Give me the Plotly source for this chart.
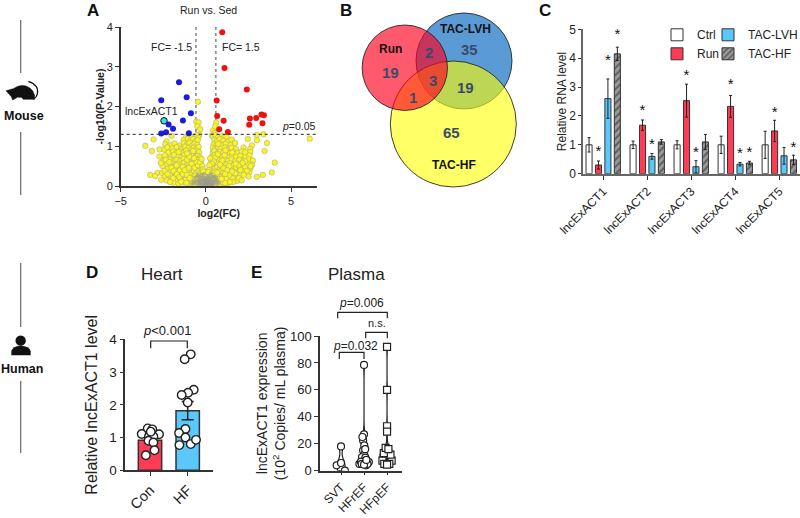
import plotly.graph_objects as go

FONT = "Liberation Sans, Arial, sans-serif"
DARK = "#333333"
W, H = 800, 518

# ---------- Panel A: volcano ----------
red_x = [0.96, 1.09, 2.40, 0.63, 0.66, 1.04, 0.78, 1.29, 2.58, 2.95, 3.26, 3.40, 2.54, 3.32]
red_y = [3.87, 2.97, 2.43, 2.15, 1.76, 1.64, 1.43, 1.36, 1.70, 1.71, 1.80, 1.78, 1.54, 1.58]
blue_x = [-1.58, -1.13, -2.62, -0.88, -1.35, -2.19, -1.93, -2.62, -2.34, -1.00]
blue_y = [2.61, 2.23, 2.16, 1.83, 1.65, 1.55, 1.44, 1.32, 1.35, 1.33]
target_x = [-2.46]
target_y = [1.64]
yellow_points = [
 (-0.47,2.12),(-0.57,1.62),(-0.43,1.60),(-0.50,1.50),(-0.38,1.29),(-0.33,1.43),(0.42,1.40),(0.60,1.60),(0.55,1.50),(0.52,1.33),(6.09,1.19),(0.35,1.27),
 (-2.02,1.26),(-1.16,1.24),(-1.02,1.27),(-0.86,1.22),(-0.61,1.25),(-0.52,1.28),(-0.44,1.21),
 (-3.07,1.17),(-2.31,1.12),(-1.31,1.16),(-1.06,1.19),(-0.91,1.13),(-0.76,1.18),(-0.63,1.11),(-0.49,1.15),
 (-2.39,1.05),(-2.01,1.03),(-1.84,1.07),(-1.56,1.02),(-1.29,1.08),(-1.11,1.04),(-0.96,1.09),(-0.81,1.01),(-0.66,1.06),(-0.51,1.03),
 (-3.56,1.01),(-2.72,0.92),(-2.44,0.92),(-2.26,0.97),(-1.96,0.94),(-1.71,0.98),(-1.46,0.93),(-1.21,0.99),(-1.01,0.96),(-0.86,0.92),(-0.71,0.97),(-0.56,0.94),(-0.43,0.98),
 (-3.17,0.88),(-2.21,0.84),(-1.91,0.87),(-1.76,0.82),(-1.51,0.88),(-1.34,0.84),(-1.16,0.89),(-0.96,0.83),(-0.81,0.86),(-0.66,0.82),(-0.52,0.88),(-0.40,0.85),
 (-2.72,0.74),(-2.41,0.77),(-2.06,0.73),(-1.86,0.78),(-1.61,0.74),(-1.41,0.72),(-1.26,0.78),(-1.06,0.75),(-0.91,0.71),(-0.73,0.77),(-0.61,0.73),(-0.46,0.76),(-0.35,0.72),
 (-2.50,0.64),(-2.11,0.67),(-1.92,0.62),(-1.72,0.66),(-1.51,0.63),(-1.31,0.68),(-1.16,0.62),(-1.01,0.66),(-0.86,0.63),(-0.71,0.68),(-0.56,0.62),(-0.41,0.66),(-0.31,0.63),
 (-2.31,0.54),(-2.01,0.57),(-1.81,0.52),(-1.62,0.56),(-1.46,0.53),(-1.29,0.58),(-1.11,0.53),(-0.96,0.57),(-0.81,0.52),(-0.66,0.56),(-0.51,0.53),(-0.39,0.58),(-0.28,0.54),
 (-2.21,0.44),(-1.96,0.47),(-1.76,0.43),(-1.56,0.47),(-1.41,0.42),(-1.21,0.46),(-1.06,0.43),(-0.91,0.48),(-0.76,0.44),(-0.61,0.47),(-0.48,0.42),(-0.36,0.46),(-0.25,0.43),
 (-2.84,0.33),(-2.58,0.33),(-2.06,0.36),(-1.86,0.32),(-1.66,0.37),(-1.46,0.33),(-1.31,0.38),(-1.16,0.34),(-1.01,0.37),(-0.86,0.32),(-0.71,0.36),(-0.56,0.33),(-0.42,0.37),(-0.31,0.34),(-0.21,0.36),
 (-3.27,0.28),(-2.98,0.25),(-2.41,0.24),(-2.11,0.27),(-1.81,0.23),(-1.61,0.26),(-1.41,0.22),(-1.21,0.27),(-1.06,0.24),(-0.91,0.28),(-0.76,0.23),(-0.61,0.26),(-0.46,0.22),(-0.36,0.27),(-0.26,0.24),(-0.16,0.26),
 (-2.31,0.14),(-2.01,0.16),(-1.76,0.13),(-1.51,0.17),(-1.26,0.13),(-1.11,0.16),(-0.91,0.12),(-0.76,0.17),(-0.61,0.14),(-0.51,0.18),(-0.38,0.13),(-0.28,0.16),(-0.20,0.12),(-0.12,0.17),
 (-1.91,0.08),(-1.61,0.06),(-1.31,0.09),(-1.01,0.06),(-0.81,0.08),(-0.61,0.05),(-0.46,0.08),(-0.31,0.06),(-0.21,0.09),(-0.10,0.05),(-0.05,0.08),
 (0.41,1.25),(0.56,1.28),(0.71,1.22),(0.96,1.26),(1.06,1.21),(1.21,1.24),(2.99,1.28),(3.38,1.30),
 (0.50,1.16),(0.66,1.12),(0.81,1.18),(1.01,1.14),(1.26,1.11),(1.51,1.17),(2.46,1.18),(2.99,1.15),
 (0.45,1.05),(0.61,1.03),(0.81,1.07),(0.96,1.02),(1.16,1.06),(1.46,1.03),(1.71,1.08),(2.70,1.02),(3.58,1.08),
 (0.40,0.96),(0.55,0.93),(0.71,0.98),(0.86,0.94),(1.11,0.97),(1.31,0.92),(1.51,0.96),(1.76,0.93),(2.21,0.97),(2.60,0.93),
 (0.41,0.84),(0.50,0.88),(0.66,0.82),(0.81,0.86),(1.01,0.83),(1.21,0.87),(1.41,0.82),(1.61,0.86),(1.86,0.83),(2.11,0.87),(2.60,0.86),(3.44,0.88),
 (0.35,0.74),(0.50,0.77),(0.61,0.72),(0.76,0.77),(0.96,0.73),(1.16,0.76),(1.36,0.72),(1.56,0.77),(1.76,0.74),(2.01,0.76),(2.31,0.73),(2.56,0.77),
 (0.30,0.64),(0.45,0.67),(0.60,0.62),(0.76,0.66),(0.91,0.63),(1.11,0.68),(1.31,0.63),(1.51,0.67),(1.71,0.62),(1.96,0.66),(2.21,0.63),(2.51,0.67),(2.76,0.64),
 (0.30,0.54),(0.42,0.57),(0.55,0.53),(0.71,0.56),(0.86,0.52),(1.01,0.57),(1.21,0.54),(1.41,0.57),(1.61,0.53),(1.86,0.56),(2.11,0.52),(2.41,0.57),(2.71,0.53),(4.04,0.59),
 (0.25,0.44),(0.38,0.47),(0.50,0.43),(0.66,0.47),(0.81,0.42),(0.96,0.46),(1.11,0.43),(1.31,0.47),(1.51,0.42),(1.76,0.46),(2.01,0.43),(2.31,0.47),(2.61,0.44),
 (0.20,0.34),(0.30,0.37),(0.42,0.33),(0.55,0.36),(0.71,0.32),(0.86,0.37),(1.01,0.33),(1.16,0.36),(1.36,0.33),(1.61,0.37),(1.91,0.33),(2.21,0.36),(2.54,0.34),(3.87,0.34),
 (0.15,0.24),(0.25,0.27),(0.35,0.23),(0.50,0.26),(0.62,0.22),(0.75,0.27),(0.91,0.23),(1.06,0.26),(1.21,0.22),(1.46,0.26),(1.71,0.23),(2.01,0.27),(2.50,0.24),(2.99,0.23),(3.34,0.28),
 (0.10,0.14),(0.20,0.17),(0.30,0.13),(0.42,0.16),(0.55,0.12),(0.70,0.17),(0.85,0.13),(1.01,0.16),(1.21,0.12),(1.46,0.16),(1.81,0.13),
 (0.05,0.07),(0.15,0.09),(0.25,0.05),(0.35,0.08),(0.50,0.06),(0.65,0.09),(0.80,0.05),(1.01,0.08),(1.26,0.06),
 (-2.55,0.50),(-2.42,0.38),(-2.36,0.66),(-2.15,0.60),(-2.25,0.30),(-2.02,0.46),(-1.90,0.38),(-1.92,0.20),(-1.70,0.30),(-1.72,0.52),(-1.52,0.40),(-1.55,0.22),(-1.36,0.48),(-1.35,0.30),(-1.24,0.40),(-1.18,0.16),(-1.12,0.28),(-1.10,0.66),(-1.00,0.46),(-0.97,0.74),(-0.83,0.56),
 (-0.80,0.16),(-0.66,0.46),(-0.55,0.60),(-0.46,0.52),(-0.35,0.60),(-2.62,0.16),(-2.10,0.10),(-1.45,0.11),(-1.15,0.08),(-0.95,0.20),(-0.70,0.70),(-1.60,0.85),(-1.10,0.82),(-0.75,0.88),(-2.65,0.58),
 (2.62,0.50),(2.40,0.38),(2.30,0.62),(2.15,0.58),(2.22,0.28),(2.02,0.40),(1.90,0.52),(1.92,0.20),(1.72,0.32),(1.75,0.56),(1.52,0.36),(1.56,0.20),(1.36,0.50),(1.35,0.27),(1.24,0.40),(1.18,0.18),(1.12,0.30),(1.10,0.78),(1.00,0.46),(0.96,0.64),(0.83,0.54),
 (0.80,0.18),(0.66,0.34),(0.55,0.72),(0.46,0.62),(0.35,0.56),(2.10,0.14),(1.60,0.10),(1.40,0.10),(1.12,0.08),(0.92,0.18),(0.70,0.80),(1.55,0.84),(1.15,0.90),(0.72,1.06),(2.30,0.85),
 (-0.20,0.50),(0.20,0.52),(-0.18,0.42),(0.17,0.40),(-0.25,0.68),(0.25,0.70),(-0.14,0.36),(0.13,0.35),
]
yellow_x = [p[0] for p in yellow_points]
yellow_y = [p[1] for p in yellow_points]
gray_points = [
 (-0.62,0.06),(-0.50,0.12),(-0.42,0.05),(-0.36,0.20),(-0.33,0.10),(-0.27,0.27),(-0.26,0.02),(-0.24,0.15),(-0.19,0.21),(-0.17,0.07),(-0.13,0.30),(-0.12,0.14),(-0.09,0.04),(-0.07,0.20),(-0.05,0.10),(-0.02,0.02),(0.00,0.14),
 (0.02,0.07),(0.05,0.19),(0.07,0.03),(0.09,0.11),(0.12,0.25),(0.14,0.06),(0.16,0.16),(0.20,0.02),(0.22,0.21),(0.24,0.10),(0.28,0.30),(0.30,0.05),(0.33,0.17),(0.37,0.11),(0.41,0.23),(0.44,0.05),(0.50,0.14),(0.58,0.08),(0.66,0.13),
 (-0.72,0.14),(-0.58,0.22),(-0.47,0.27),(-0.40,0.14),(-0.30,0.06),(0.36,0.03),(0.48,0.24),(0.60,0.20),(0.74,0.06),(-0.80,0.07),
]
gray_x = [p[0] for p in gray_points]
gray_y = [p[1] for p in gray_points]

# ---------- Panel C: grouped bars ----------
genes = ["lncExACT1", "lncExACT2", "lncExACT3", "lncExACT4", "lncExACT5"]
ctrl = [1.0, 1.0, 1.0, 1.0, 1.0]
ctrl_err = [0.25, 0.13, 0.14, 0.30, 0.47]
run = [0.30, 1.68, 2.53, 2.33, 1.48]
run_err = [0.14, 0.18, 0.57, 0.38, 0.37]
lvh = [2.60, 0.60, 0.24, 0.33, 0.62]
lvh_err = [0.68, 0.10, 0.21, 0.06, 0.29]
hf = [4.15, 1.10, 1.10, 0.37, 0.48]
hf_err = [0.23, 0.08, 0.26, 0.06, 0.16]
star_group = [0, 0, 0, 1, 1, 2, 2, 3, 3, 3, 4, 4]
star_slot = [1, 2, 3, 1, 2, 1, 2, 1, 2, 3, 1, 3]
star_y = [0.74, 3.90, 4.79, 2.15, 0.98, 3.37, 0.72, 3.06, 0.67, 0.72, 2.10, 0.89]

# ---------- Panel D ----------
d_groups = ["Con", "HF"]
d_means = [0.92, 1.82]
d_errs = [0.08, 0.28]
con_x = [-0.06, 0.06, -0.22, 0.24, -0.03, 0.09, -0.04, 0.09, 0.12, -0.11, 0.02]
con_y = [1.28, 1.25, 1.11, 1.10, 1.03, 1.03, 0.90, 0.85, 0.61, 0.46, 1.18]
hfd_x = [1.08, 0.92, 1.16, 1.01, 0.84, 1.00, 0.94, 0.77, 0.94, 0.78, 1.08, 1.22]
hfd_y = [3.54, 3.39, 2.46, 2.37, 2.30, 2.07, 1.26, 1.14, 1.00, 0.77, 0.80, 0.93]

# ---------- Panel E ----------
e_groups = ["SVT", "HFrEF", "HFpEF"]
svt_x = [0.0, -0.19, 0.0, 0.17]
svt_y = [18, 4, 5.7, 0]
hfr_x = [1.0, 1.0, 0.96, 1.01, 0.96, 1.01, 0.91, 1.06, 0.80, 1.03, 1.21, 1.09, 0.87, 0.93, 1.05, 0.90, 1.15, 1.00, 1.10]
hfr_y = [78.5, 27, 22.5, 18.8, 15, 12, 10, 9.7, 5, 7, 6.4, 4, 6.7, 25, 16, 5, 5, 4.5, 8]
hfp_x = [2.0, 2.0, 2.0, 2.0, 2.0, 1.95, 2.05, 1.92, 2.06, 1.85, 1.97, 2.12, 1.90, 2.08, 1.98, 2.02, 1.80, 2.20, 1.88, 2.10, 2.15, 1.86, 2.00, 1.94, 2.06]
hfp_y = [92, 60, 33, 29, 16, 14, 13, 11, 11, 10, 9, 9, 8, 8, 7, 6, 7.5, 7.5, 5, 5, 12, 13, 4.5, 17, 16]


def P(x, y):
    return x / W, 1 - y / H


def xdom(a, b):
    return [a / W, b / W]


def ydom(top, bottom):
    return [1 - bottom / H, 1 - top / H]


def axis(**kw):
    base = dict(showline=True, linecolor=DARK, linewidth=1.5, ticks="outside", ticklen=4,
                tickwidth=1.2, tickcolor=DARK, showgrid=False, zeroline=False,
                tickfont=dict(family=FONT, size=12, color="#222"))
    base.update(kw)
    return base


fig = go.Figure()

# --- A
common_a = dict(xaxis="x", yaxis="y", mode="markers", showlegend=False)
fig.add_trace(go.Scatter(x=yellow_x, y=yellow_y, marker=dict(size=5.5, color="#FBF51A", line=dict(color="#ABAB90", width=0.6)), **common_a))
fig.add_trace(go.Scatter(x=gray_x, y=gray_y, marker=dict(size=4, color="rgba(150,150,150,0.6)"), **common_a))
fig.add_trace(go.Scatter(x=blue_x, y=blue_y, marker=dict(size=6, color="#1A1AE0"), **common_a))
fig.add_trace(go.Scatter(x=red_x, y=red_y, marker=dict(size=6, color="#F01010"), **common_a))
fig.add_trace(go.Scatter(x=target_x, y=target_y, marker=dict(size=6.5, color="#35E6DC", line=dict(color="#111", width=1)), **common_a))

# --- C
group_step = 0.2143
bar_w = 0.138
series = [
    ("Ctrl", ctrl, ctrl_err, dict(color="white"), "legend"),
    ("Run", run, run_err, dict(color="#FF3B55"), "legend"),
    ("TAC-LVH", lvh, lvh_err, dict(color="#5AC8FA"), "legend2"),
    ("TAC-HF", hf, hf_err, dict(color="#9A9A9A", pattern=dict(shape="/", fgcolor="#222", bgcolor="#9A9A9A", size=5, solidity=0.4)), "legend2"),
]
for k, (name, vals, errs, mk, leg) in enumerate(series):
    off = (k - 1.5) * group_step
    fig.add_trace(go.Bar(
        x=[i + off for i in range(len(genes))], y=vals, width=bar_w, name=name, legend=leg,
        xaxis="x2", yaxis="y2",
        marker=dict(line=dict(color=DARK, width=1), **mk),
        error_y=dict(type="data", array=errs, color="#222", thickness=1, width=1.5),
    ))
fig.add_trace(go.Scatter(
    x=[g + (s - 1.5) * group_step for g, s in zip(star_group, star_slot)], y=star_y,
    mode="text", text=["*"] * len(star_y), textfont=dict(family=FONT, size=15, color="#111"),
    xaxis="x2", yaxis="y2", showlegend=False, hoverinfo="skip"))

# --- D
fig.add_trace(go.Bar(
    x=[0, 1], y=d_means, width=0.62, xaxis="x3", yaxis="y3", showlegend=False,
    marker=dict(color=["#FF3B55", "#5AC8FA"], line=dict(color=DARK, width=1.5)),
    error_y=dict(type="data", array=d_errs, color="#222", thickness=1.5, width=6)))
dot = dict(size=8.5, color="white", line=dict(color="#222", width=1.4))
fig.add_trace(go.Scatter(x=con_x, y=con_y, mode="markers", marker=dot, xaxis="x3", yaxis="y3", showlegend=False))
fig.add_trace(go.Scatter(x=hfd_x, y=hfd_y, mode="markers", marker=dot, xaxis="x3", yaxis="y3", showlegend=False))

# --- E
for i, vals in enumerate([svt_y, hfr_y, hfp_y]):
    fig.add_trace(go.Violin(
        x0=i, y=vals, xaxis="x4", yaxis="y4", showlegend=False, points=False,
        spanmode="hard", width=0.35, bandwidth=4, line=dict(color="#222", width=1.2),
        fillcolor="rgba(255,255,255,0)", hoverinfo="skip"))
edot = dict(size=7, color="white", line=dict(color="#222", width=1.2))
fig.add_trace(go.Scatter(x=svt_x, y=svt_y, mode="markers", marker=edot, xaxis="x4", yaxis="y4", showlegend=False))
fig.add_trace(go.Scatter(x=hfr_x, y=hfr_y, mode="markers", marker=edot, xaxis="x4", yaxis="y4", showlegend=False))
fig.add_trace(go.Scatter(x=hfp_x, y=hfp_y, mode="markers", marker=dict(symbol="square", **edot), xaxis="x4", yaxis="y4", showlegend=False))

shapes = []


def vline_px(x, y0, y1, color="#666", width=1.2):
    a, b = P(x, y0), P(x, y1)
    shapes.append(dict(type="line", xref="paper", yref="paper", x0=a[0], y0=a[1], x1=b[0], y1=b[1], line=dict(color=color, width=width)))


def bracket(x0, x1, ytop, ybot):
    pts = [P(x0, ybot), P(x0, ytop), P(x1, ytop), P(x1, ybot)]
    path = "M" + " L".join(f"{a:.5f},{b:.5f}" for a, b in pts)
    shapes.append(dict(type="path", xref="paper", yref="paper", path=path, line=dict(color="#222", width=1.2)))


def poly_path(cmds, **kw):
    out = []
    for c in cmds:
        letter, coords = c[0], c[1:]
        parts = []
        for j in range(0, len(coords), 2):
            a, b = P(coords[j], coords[j + 1])
            parts.append(f"{a:.5f},{b:.5f}")
        out.append(letter + " ".join(parts))
    shapes.append(dict(type="path", xref="paper", yref="paper", path=" ".join(out), **kw))


def circle_px(cx, cy, r, **kw):
    a, b = P(cx - r, cy - r), P(cx + r, cy + r)
    shapes.append(dict(type="circle", xref="paper", yref="paper", x0=a[0], y0=a[1], x1=b[0], y1=b[1], **kw))


# reference lines in A (data coordinates)
for xv in (-0.585, 0.585):
    shapes.append(dict(type="line", xref="x", yref="y", x0=xv, x1=xv, y0=0, y1=4, line=dict(color="#555", width=1.1, dash="dot"), layer="between"))
shapes.append(dict(type="line", xref="x", yref="y", x0=-5, x1=6.5, y0=1.3, y1=1.3, line=dict(color="#222", width=1, dash="dot")))

# side rails
for y0, y1 in [(20, 73), (132, 195), (263, 327), (381, 453)]:
    vline_px(20.7, y0, y1)

# mouse icon
mx, my = (lambda zx: zx / 3), (lambda zy: 20 + zy / 3)
poly_path([
    ("M", mx(18), my(212)), ("L", mx(40), my(206)), ("Q", mx(60), my(192), mx(78), my(198)),
    ("Q", mx(106), my(208), mx(104), my(238)), ("L", mx(70), my(238)), ("L", mx(64), my(232)),
    ("L", mx(52), my(232)), ("L", mx(38), my(240)), ("L", mx(34), my(230)), ("Z",),
], fillcolor="#111", line=dict(color="#111", width=0.5))
poly_path([
    ("M", mx(85), my(184)), ("Q", mx(118), my(195), mx(112), my(222)), ("Q", mx(110), my(232), mx(100), my(238)),
], line=dict(color="#111", width=1.2))
# human icon
circle_px(mx(62), my(962), 5.2, fillcolor="#111", line=dict(color="#111", width=0))
poly_path([
    ("M", mx(34), my(1006)), ("L", mx(34), my(993)), ("Q", mx(38), my(978), mx(62), my(977)),
    ("Q", mx(88), my(978), mx(92), my(993)), ("L", mx(92), my(1006)), ("Z",),
], fillcolor="#111", line=dict(color="#111", width=0))

# Venn
edge = dict(color="rgba(30,30,30,0.85)", width=1)
circle_px(464, 61, 48, fillcolor="#5B9BD5", line=edge)
circle_px(453.3, 124, 63, fillcolor="rgba(255,255,0,0.6)", line=edge)
circle_px(404.8, 67.7, 42.7, fillcolor="rgba(255,0,30,0.65)", line=edge)

# brackets
bracket(150.7, 187.3, 341, 348.3)
bracket(337.7, 387.3, 312.3, 318.3)
bracket(365.7, 387.3, 332.3, 338.3)
bracket(339.3, 364, 352.3, 359)

anns = []


def txt(x, y, s, size=11, color="#222", bold=False, **kw):
    a, b = P(x, y)
    if bold:
        s = f"<b>{s}</b>"
    anns.append(dict(xref="paper", yref="paper", x=a, y=b, text=s, showarrow=False, xanchor="center", yanchor="middle",
                     font=dict(family=FONT, size=size, color=color), **kw))


for s, x, y in [("A", 93, 11), ("B", 345.7, 11), ("C", 545, 11), ("D", 91.7, 272), ("E", 256.7, 272)]:
    txt(x, y, s, size=17, color="#111", bold=True)
txt(23.7, 116, "Mouse", size=12.5, color="#111", bold=True)
txt(21.7, 369, "Human", size=12.5, color="#111", bold=True)
txt(208.3, 10, "Run vs. Sed", size=10.5)
txt(171, 47, "FC= -1.5", size=10.5)
txt(240.7, 47, "FC= 1.5", size=10.5)
txt(299.3, 126, "<i>p</i>=0.05", size=10.5)
txt(161.7, 274, "Heart", size=17)
txt(356.7, 274, "Plasma", size=17)
txt(167.3, 330.7, "<i>p</i>&lt;0.001", size=13)
txt(361, 303.3, "<i>p</i>=0.006", size=12)
txt(376.7, 323.3, "n.s.", size=11)
txt(355, 345.7, "<i>p</i>=0.032", size=12)

# Venn text
num = "#3B4A6B"
for s, x, y in [("19", 390, 72.7), ("2", 429.3, 52), ("35", 469, 49.3), ("3", 433.3, 80), ("19", 465, 87.7), ("1", 413.3, 97.3), ("65", 451.3, 132.3)]:
    txt(x, y, s, size=15, color=num, bold=True)
for s, x, y in [("Run", 390, 49.3), ("TAC-LVH", 465, 29.3), ("TAC-HF", 454, 165)]:
    txt(x, y, s, size=12, color="#111", bold=True)

# arrowed label in A
anns.append(dict(xref="x", yref="y", x=target_x[0], y=target_y[0], text="lncExACT1", showarrow=True,
                 axref="pixel", ayref="pixel", ax=-12.7, ay=-10, arrowhead=2, arrowsize=0.7, arrowwidth=0.8, standoff=4,
                 arrowcolor="#222", font=dict(family=FONT, size=10.5, color="#222")))

fig.update_layout(
    width=W, height=H, margin=dict(l=0, r=0, t=0, b=0, autoexpand=False), paper_bgcolor="white", plot_bgcolor="white",
    barmode="overlay", violinmode="overlay", font=dict(family=FONT, color="#222"),
    shapes=shapes, annotations=anns,
    xaxis=axis(domain=xdom(120.7, 316.7), range=[-5, 6.5], tickvals=[-5, 0, 5], anchor="y",
               title=dict(text="<b>log2(FC)</b>", font=dict(size=10.5, family=FONT), standoff=1), tickfont=dict(family=FONT, size=11, color="#222")),
    yaxis=axis(domain=ydom(27, 186), range=[0, 4], tickvals=[0, 1, 2, 3, 4], anchor="x",
               title=dict(text="<b>-log10(P-Value)</b>", font=dict(size=10.5, family=FONT), standoff=0), tickfont=dict(family=FONT, size=11, color="#222")),
    xaxis2=axis(domain=xdom(583.3, 800), range=[-0.452, 4.47], tickvals=list(range(5)), ticktext=genes, tickangle=-45, anchor="y2", linecolor="#666", linewidth=2),
    yaxis2=axis(domain=ydom(29.3, 173.7), range=[0, 5], tickvals=[0, 1, 2, 3, 4, 5], anchor="x2", linecolor="#666", linewidth=2, ticklen=3,
                title=dict(text="Relative RNA level", font=dict(size=12, family=FONT), standoff=0)),
    xaxis3=axis(domain=xdom(125.3, 212.7), range=[-0.655, 1.663], tickvals=[0, 1], ticktext=d_groups, tickangle=-45, anchor="y3",
                tickfont=dict(family=FONT, size=14.5, color="#222")),
    yaxis3=axis(domain=ydom(339.3, 470.3), range=[0, 4], tickvals=[0, 1, 2, 3, 4], anchor="x3",
                tickfont=dict(family=FONT, size=13.5, color="#222"),
                title=dict(text="Relative lncExACT1 level", font=dict(size=16, family=FONT), standoff=8)),
    xaxis4=axis(domain=xdom(320, 402), range=[-0.913, 2.65], tickvals=[0, 1, 2], ticktext=e_groups, tickangle=-45, anchor="y4", ticklen=3,
                tickfont=dict(family=FONT, size=12, color="#222")),
    yaxis4=axis(domain=ydom(336, 470.7), range=[0, 100], tickvals=[0, 20, 40, 60, 80, 100], anchor="x4",
                tickfont=dict(family=FONT, size=13, color="#222"),
                title=dict(text="lncExACT1 expression<br>(10<sup>2</sup> Copies/ mL plasma)", font=dict(size=14, family=FONT), standoff=1)),
    legend=dict(x=657 / W, y=1 - 20.3 / H, xanchor="left", yanchor="top", bgcolor="rgba(0,0,0,0)", font=dict(family=FONT, size=12, color="#222"), traceorder="normal"),
    legend2=dict(x=708 / W, y=1 - 20.3 / H, xanchor="left", yanchor="top", bgcolor="rgba(0,0,0,0)", font=dict(family=FONT, size=12, color="#222"), traceorder="normal"),
)

fig.write_html("out.html", config=dict(displayModeBar=False), post_script="document.body.style.margin='0';document.body.style.overflow='hidden';")
